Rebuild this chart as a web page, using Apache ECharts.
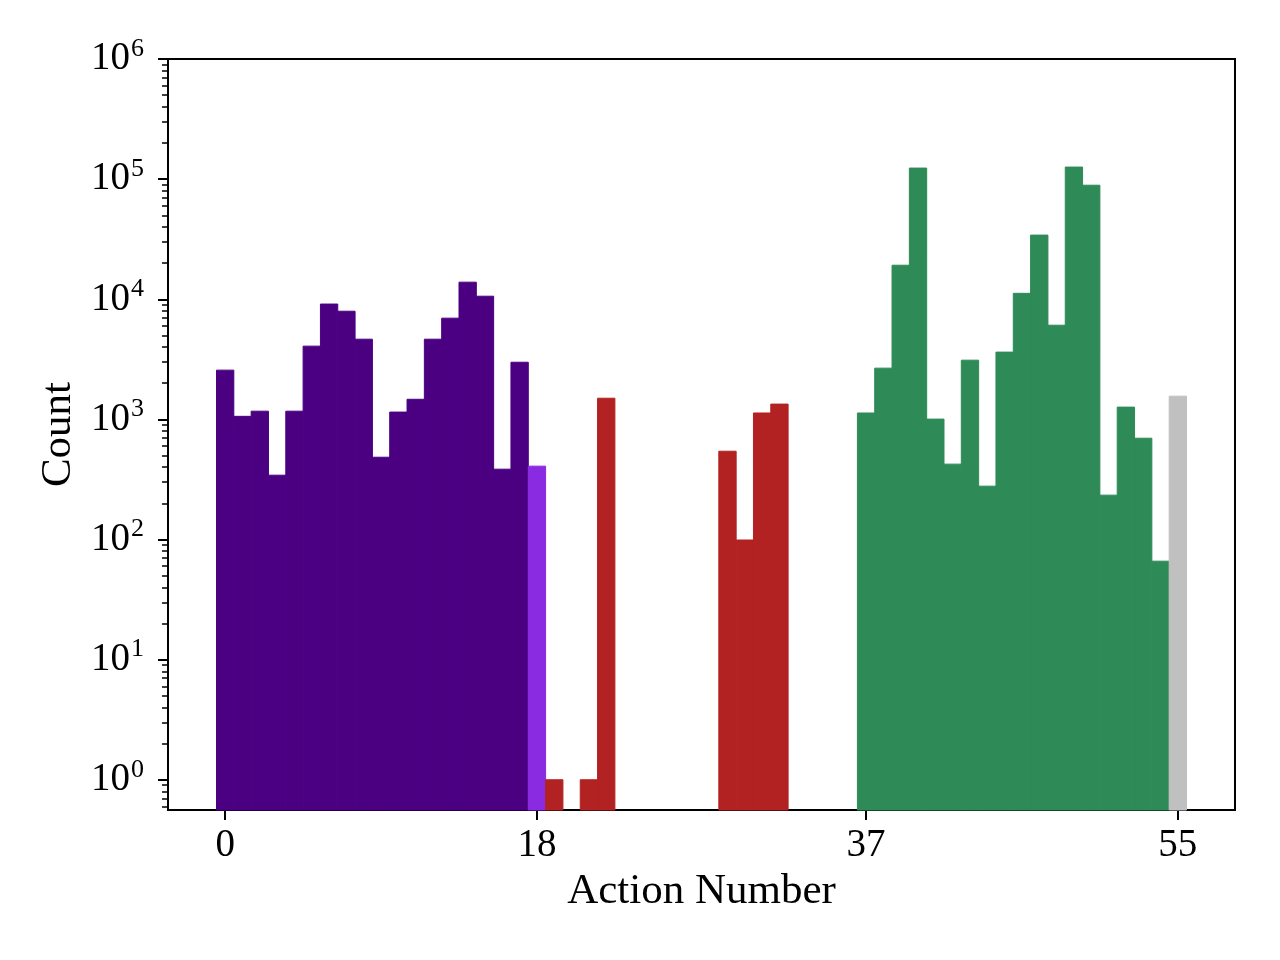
<!DOCTYPE html>
<html>
<head>
<meta charset="utf-8">
<script src="https://cdn.jsdelivr.net/npm/echarts@6/dist/echarts.min.js"></script>
<style>
  html, body { margin: 0; padding: 0; background: #fff; }
  #main { width: 1280px; height: 960px; }
</style>
</head>
<body>
<div id="main"></div>
<script>
// counts per action (0 = empty bin)
var actions = [];
for (var i = 0; i <= 55; i++) actions.push(i);
var counts = [
  2570, 1060, 1170, 343, 1170, 4070, 9120, 7950, 4650, 484,
  1150, 1470, 4650, 6960, 13870, 10600, 385, 2990,
  408,
  1, 0, 1, 1500, 0, 0, 0, 0, 0, 0, 543, 99, 1130, 1340, 0, 0, 0, 0,
  1130, 2670, 19200, 123600, 1005, 424, 3110, 278, 3630, 11200, 34200,
  6080, 126000, 89000, 234, 1265, 697, 66,
  1560
];
// action groups (first, last) and their colours
var groupRanges = [[0, 17], [18, 18], [19, 36], [37, 54], [55, 55]];
var groupColors = ['#4b0082', '#8a2be2', '#b22222', '#2e8b57', '#c0c0c0'];
var xTicks = [0, 18, 37, 55];
var yTicks = [1, 10, 100, 1e3, 1e4, 1e5, 1e6];

var Y_MIN = 0.56, Y_MAX = 1e6;
var FONT = '"Liberation Serif", "DejaVu Serif", serif';

// minor log ticks 2..9 x 10^n
var yMinor = [];
for (var e = -1; e < 6; e++) {
  for (var m = 2; m <= 9; m++) {
    var v = m * Math.pow(10, e);
    if (v >= Y_MIN && v <= Y_MAX) yMinor.push(v);
  }
}

function renderBar(color) {
  return function (params, api) {
    var x = api.value(0), v = api.value(1);
    if (!v) return null;
    var tl = api.coord([x - 0.5, v]);
    var br = api.coord([x + 0.5, Y_MIN]);
    return {
      type: 'rect',
      shape: { x: tl[0], y: tl[1], width: br[0] - tl[0], height: br[1] - tl[1] },
      style: { fill: color, stroke: color, lineWidth: 1 }
    };
  };
}

var series = groupRanges.map(function (r, gi) {
  var data = [];
  for (var a = r[0]; a <= r[1]; a++) data.push([actions[a], counts[a]]);
  return {
    type: 'custom',
    renderItem: renderBar(groupColors[gi]),
    data: data,
    encode: { x: 0, y: 1 },
    silent: true
  };
});

var chart = echarts.init(document.getElementById('main'));
chart.setOption({
  animation: false,
  backgroundColor: '#fff',
  grid: {
    left: 168, right: 45, top: 59, bottom: 150,
    show: true, borderColor: '#000', borderWidth: 2, backgroundColor: 'transparent'
  },
  xAxis: {
    type: 'value',
    min: -3.3, max: 58.3,
    name: 'Action Number',
    nameLocation: 'middle',
    nameGap: 60,
    nameTextStyle: { fontFamily: FONT, fontSize: 43, color: '#000' },
    axisLine: { onZero: false, lineStyle: { color: '#000', width: 2 } },
    axisTick: { show: true, inside: false, length: 10, lineStyle: { color: '#000', width: 2 }, customValues: xTicks },
    axisLabel: { fontFamily: FONT, fontSize: 39, color: '#000', margin: 16, customValues: xTicks },
    splitLine: { show: false }
  },
  yAxis: [{
    type: 'log',
    min: Y_MIN, max: Y_MAX,
    name: 'Count',
    nameLocation: 'middle',
    nameGap: 86,
    nameTextStyle: { fontFamily: FONT, fontSize: 43, color: '#000' },
    axisLine: { onZero: false, lineStyle: { color: '#000', width: 2 } },
    axisTick: { show: true, inside: false, length: 10, lineStyle: { color: '#000', width: 2 }, customValues: yTicks },
    axisLabel: {
      fontFamily: FONT, color: '#000', margin: 24, customValues: yTicks,
      formatter: function (val) {
        return '{b|10}{s|' + Math.round(Math.log10(val)) + '}';
      },
      rich: {
        b: { fontFamily: FONT, fontSize: 39, color: '#000' },
        s: { fontFamily: FONT, fontSize: 26, color: '#000', padding: [0, 0, 20, 1] }
      }
    },
    splitLine: { show: false }
  }, {
    type: 'log',
    min: Y_MIN, max: Y_MAX,
    position: 'left',
    axisLine: { show: false, onZero: false },
    axisTick: { show: true, inside: false, length: 6, lineStyle: { color: '#000', width: 1.5 }, customValues: yMinor },
    axisLabel: { show: false },
    splitLine: { show: false }
  }],
  series: series
});
</script>
</body>
</html>
